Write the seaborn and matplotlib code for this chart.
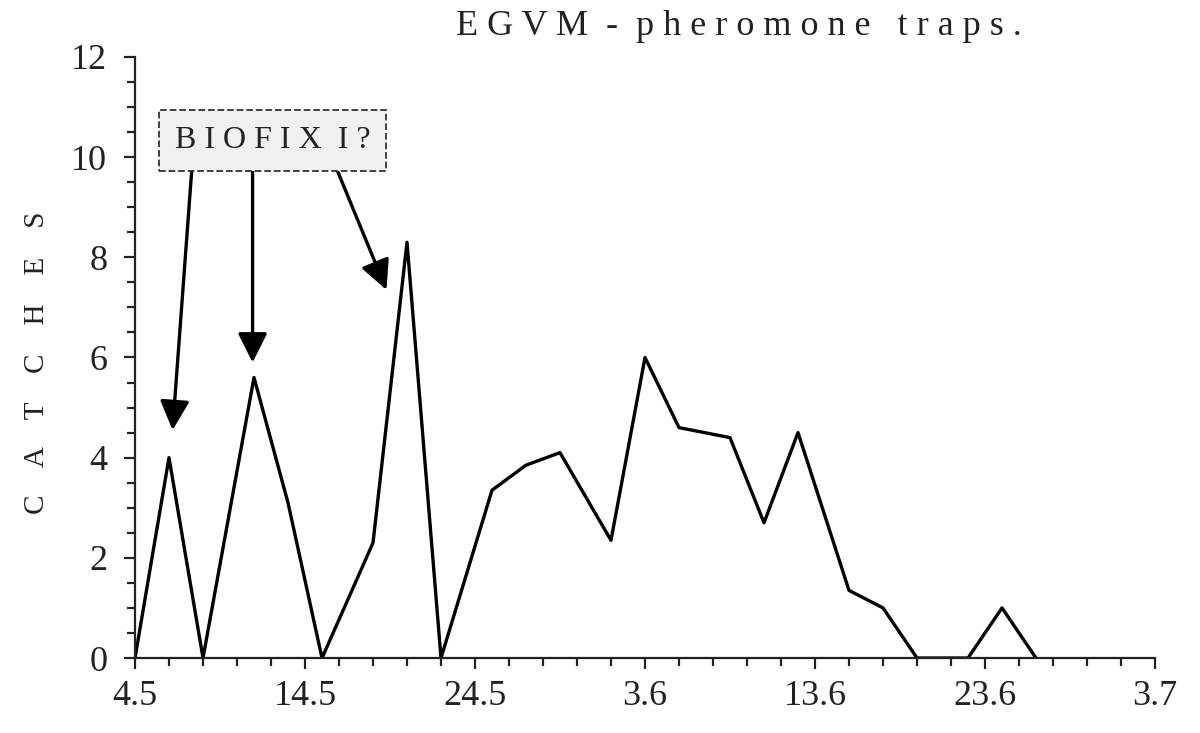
import pandas as pd
import seaborn as sns
import matplotlib.pyplot as plt
import matplotlib.dates as mdates
from matplotlib.ticker import MultipleLocator

# Data
dates = ["2015-05-04", "2015-05-06", "2015-05-08", "2015-05-11", "2015-05-13", "2015-05-15",
         "2015-05-18", "2015-05-20", "2015-05-22", "2015-05-25", "2015-05-27", "2015-05-29",
         "2015-06-01", "2015-06-03", "2015-06-05", "2015-06-08", "2015-06-10", "2015-06-12",
         "2015-06-15", "2015-06-17", "2015-06-19", "2015-06-22", "2015-06-24", "2015-06-26"]
catches = [0, 4.0, 0, 5.6, 3.1, 0,
           2.3, 8.3, 0, 3.35, 3.85, 4.1,
           2.35, 6.0, 4.6, 4.4, 2.7, 4.5,
           1.35, 1.0, 0, 0, 1.0, 0]

tick_dates = ["2015-05-04", "2015-05-14", "2015-05-24", "2015-06-03", "2015-06-13", "2015-06-23", "2015-07-03"]
tick_labels = ["4.5", "14.5", "24.5", "3.6", "13.6", "23.6", "3.7"]

# BIOFIX annotation
box_text = "B I O F I X  I ?"
box_date, box_y = "2015-05-12 02:00", 10.33
arrow_start_dates = ["2015-05-07 08:00", "2015-05-10 22:00", "2015-05-15 22:00"]
arrow_tip_dates = ["2015-05-06 05:00", "2015-05-10 22:00", "2015-05-18 19:00"]
arrow_tip_vals = [4.55, 5.9, 7.35]
arrow_start_y = 9.72

df = pd.DataFrame({"date": pd.to_datetime(dates), "catches": catches})

sns.set_style("ticks")
plt.rcParams['font.family'] = ['Liberation Serif', 'DejaVu Serif']

fig = plt.figure(figsize=(12, 7.33), dpi=100)
ax = fig.add_axes([0.1125, 0.1023, 0.85, 0.82])

sns.lineplot(data=df, x="date", y="catches", color="black", linewidth=2.4, ax=ax)

ax.set_xlim(pd.Timestamp(tick_dates[0]), pd.Timestamp(tick_dates[-1]))
ax.set_ylim(0, 12)
ax.set_xticks(pd.to_datetime(tick_dates))
ax.set_xticklabels(tick_labels)
ax.set_xticks(pd.date_range(tick_dates[0], tick_dates[-1], freq="2D"), minor=True)
ax.set_yticks(range(0, 13, 2))
ax.yaxis.set_minor_locator(MultipleLocator(0.5))

sns.despine(ax=ax)
for side in ["left", "bottom"]:
    ax.spines[side].set_linewidth(1.6)
    ax.spines[side].set_color("#222222")
ax.tick_params(which="major", direction="out", length=8, width=1.6, labelsize=26, colors="#222222")
ax.tick_params(which="minor", direction="out", length=6, width=1.6, colors="#222222")
ax.tick_params(axis="x", pad=8)
ax.tick_params(axis="y", pad=12)
ax.set_xlabel("")
ax.set_ylabel("")

fig.text(0.616, 0.952, "E G V M  -  p h e r o m o n e   t r a p s .", ha="center", va="baseline",
         fontsize=26, color="#222222")
fig.text(0.031, 0.505, "C    A    T    C    H    E    S", rotation=90, ha="center", va="center",
         fontsize=21, color="#222222")

ax.text(mdates.date2num(pd.Timestamp(box_date)), box_y, box_text, ha="center", va="center",
        fontsize=23, color="#222222", zorder=5,
        bbox=dict(boxstyle="square,pad=0.5", fc="#f0f0f0", ec="#333333", ls="--", lw=1.3))

for sd, td, tv in zip(arrow_start_dates, arrow_tip_dates, arrow_tip_vals):
    ax.annotate("", xy=(mdates.date2num(pd.Timestamp(td)), tv),
                xytext=(mdates.date2num(pd.Timestamp(sd)), arrow_start_y),
                arrowprops=dict(arrowstyle="-|>,head_length=0.9,head_width=0.45", color="black",
                                lw=2.4, mutation_scale=20, shrinkA=0, shrinkB=0))

fig.savefig("out.png", dpi=100)
